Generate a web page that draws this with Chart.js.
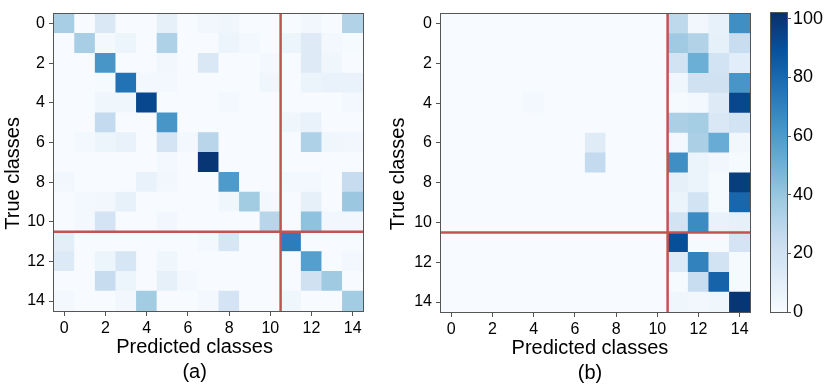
<!DOCTYPE html>
<html>
<head>
<meta charset="utf-8">
<title>Confusion matrices</title>
<script src="https://cdn.jsdelivr.net/npm/chart.js@4.4.1/dist/chart.umd.min.js"></script>
<style>
  html, body { margin: 0; padding: 0; background: #fff; }
  #wrap { position: relative; width: 830px; height: 389px; overflow: hidden; }
  #wrap canvas { position: absolute; top: 0; }
</style>
</head>
<body>
<div id="wrap">
  <canvas id="chart-a" width="380" height="389" style="left:0"></canvas>
  <canvas id="chart-b" width="380" height="389" style="left:380px"></canvas>
  <canvas id="chart-cbar" width="70" height="389" style="left:760px"></canvas>
</div>
<script>
// Data (percent per true class)
const tickVals = [0, 2, 4, 6, 8, 10, 12, 14];
const cbarTicks = [0, 20, 40, 60, 80, 100];
const vmax = 102;
const splitAt = 10.5;

const confA = [
  [35, 0, 15, 0, 0, 9, 0, 3, 4, 0, 0, 0, 3, 0, 32],
  [0, 35, 2, 5, 0, 33, 0, 0, 5, 2, 0, 5, 13, 2, 1],
  [0, 0, 62, 0, 0, 3, 0, 15, 0, 0, 2, 0, 13, 4, 0],
  [0, 0, 1, 76, 2, 2, 0, 0, 0, 0, 4, 0, 6, 7, 7],
  [0, 0, 4, 4, 93, 0, 0, 0, 2, 0, 0, 0, 0, 0, 2],
  [0, 0, 26, 0, 0, 62, 0, 0, 0, 0, 0, 4, 7, 0, 0],
  [0, 2, 5, 7, 0, 18, 2, 30, 0, 0, 0, 0, 33, 4, 3],
  [0, 0, 0, 0, 0, 2, 0, 100, 0, 0, 0, 0, 0, 0, 0],
  [3, 0, 0, 0, 7, 3, 0, 0, 60, 0, 0, 2, 2, 0, 25],
  [0, 2, 3, 8, 0, 0, 0, 0, 4, 37, 2, 0, 9, 0, 39],
  [0, 2, 18, 0, 0, 3, 0, 0, 0, 0, 30, 0, 42, 3, 3],
  [10, 0, 0, 0, 0, 0, 0, 2, 17, 0, 0, 72, 0, 0, 0],
  [14, 0, 5, 17, 0, 4, 0, 0, 0, 0, 0, 0, 58, 0, 2],
  [0, 0, 25, 5, 0, 9, 2, 0, 0, 0, 0, 0, 20, 38, 0],
  [2, 0, 0, 3, 37, 0, 0, 2, 18, 0, 0, 4, 0, 0, 37],
];

const confB = [
  [0, 0, 0, 0, 0, 0, 0, 0, 0, 0, 0, 28, 3, 8, 65],
  [0, 0, 0, 0, 0, 0, 0, 0, 0, 0, 0, 38, 32, 9, 24],
  [0, 0, 0, 0, 0, 0, 0, 0, 0, 0, 0, 19, 51, 19, 11],
  [0, 0, 0, 0, 0, 0, 0, 0, 0, 0, 0, 4, 20, 20, 62],
  [0, 0, 0, 0, 2, 0, 0, 0, 0, 0, 0, 1, 2, 13, 93],
  [0, 0, 0, 0, 0, 0, 0, 0, 0, 0, 0, 34, 36, 15, 19],
  [0, 0, 0, 0, 0, 0, 0, 12, 0, 0, 0, 2, 34, 52, 3],
  [0, 0, 0, 0, 0, 0, 0, 26, 0, 0, 0, 65, 6, 3, 1],
  [0, 0, 0, 0, 0, 0, 0, 0, 0, 0, 0, 9, 6, 1, 97],
  [0, 0, 0, 0, 0, 0, 0, 0, 0, 0, 0, 6, 19, 1, 81],
  [0, 0, 0, 0, 0, 0, 0, 0, 0, 0, 0, 19, 66, 7, 9],
  [0, 0, 0, 0, 0, 0, 0, 0, 0, 0, 0, 90, 1, 1, 18],
  [0, 0, 0, 0, 0, 0, 0, 0, 0, 0, 0, 14, 70, 19, 1],
  [0, 0, 0, 0, 0, 0, 0, 0, 0, 0, 0, 1, 24, 82, 1],
  [0, 0, 0, 0, 0, 0, 0, 0, 0, 0, 0, 4, 3, 4, 100],
];

// matplotlib "Blues"
const blues = ["#f7fbff", "#deebf7", "#c6dbef", "#9ecae1", "#6baed6", "#4292c6", "#2171b5", "#08519c", "#08306b"];
const splitColor = "#c45252";
const inkColor = "#000";
const spineColor = "#555";

Chart.defaults.font.family = '"Liberation Sans", Arial, sans-serif';
Chart.defaults.color = inkColor;

function hexToRgb(hex) {
  const n = parseInt(hex.slice(1), 16);
  return [(n >> 16) & 255, (n >> 8) & 255, n & 255];
}

function bluesColor(value) {
  const t = Math.max(0, Math.min(1, value / vmax)) * (blues.length - 1);
  const i = Math.min(blues.length - 2, Math.floor(t));
  const f = t - i;
  const a = hexToRgb(blues[i]);
  const b = hexToRgb(blues[i + 1]);
  const rgb = a.map((c, k) => Math.round(c + (b[k] - c) * f));
  return `rgb(${rgb[0]}, ${rgb[1]}, ${rgb[2]})`;
}

// one floating bar per cell, spanning its column
function cellData(matrix) {
  const cells = [];
  matrix.forEach((row, r) => {
    row.forEach((v, c) => {
      cells.push({ x: [c - 0.5, c + 0.5], y: r, v });
    });
  });
  return cells;
}

// trailing no-break spaces nudge a centred title toward its start
function nudge(text, count) {
  return text + "\u00a0".repeat(count);
}

// box around the plot area like matplotlib spines
const framePlugin = {
  id: "frame",
  afterDatasetsDraw(chart) {
    const { ctx, chartArea: a } = chart;
    ctx.save();
    ctx.strokeStyle = spineColor;
    ctx.lineWidth = 1;
    ctx.strokeRect(Math.round(a.left) - 0.5, Math.round(a.top) - 0.5, Math.round(a.right - a.left) + 1, Math.round(a.bottom - a.top) + 1);
    ctx.restore();
  },
};

function fixedTicks(values) {
  return (axis) => {
    axis.ticks = values.map((v) => ({ value: v }));
  };
}

function makeHeatmap(id, matrix, caption, opts) {
  const n = matrix.length;
  new Chart(document.getElementById(id), {
    type: "bar",
    data: {
      datasets: [
        {
          type: "line",
          data: [{ x: splitAt, y: -0.5 }, { x: splitAt, y: n - 0.5 }],
          borderColor: splitColor,
          borderWidth: 2.5,
          pointRadius: 0,
          order: 0,
        },
        {
          type: "line",
          data: [{ x: -0.5, y: splitAt }, { x: n - 0.5, y: splitAt }],
          borderColor: splitColor,
          borderWidth: 2.5,
          pointRadius: 0,
          order: 0,
        },
        {
          type: "bar",
          data: cellData(matrix),
          backgroundColor: (ctx) => bluesColor(ctx.raw ? ctx.raw.v : 0),
          borderWidth: 0,
          barPercentage: 1,
          categoryPercentage: 1,
          order: 1,
        },
      ],
    },
    options: {
      indexAxis: "y",
      responsive: false,
      animation: false,
      layout: { padding: opts.padding },
      plugins: {
        legend: { display: false },
        tooltip: { enabled: false },
      },
      scales: {
        x: {
          type: "linear",
          min: -0.5,
          max: n - 0.5,
          bounds: "data",
          offset: false,
          afterBuildTicks: fixedTicks(tickVals),
          afterFit: (axis) => { axis.height = opts.xAxisHeight; },
          ticks: { font: { size: 16 }, padding: 3, maxRotation: 0, autoSkip: false, color: inkColor },
          grid: { offset: false, drawOnChartArea: false, drawTicks: true, tickLength: 5, color: spineColor },
          border: { display: false },
          title: {
            display: true,
            text: [nudge("Predicted classes", opts.xNudge), nudge(caption, opts.xNudge)],
            font: { size: 20, lineHeight: 1.25 },
            padding: { top: 0, bottom: opts.xTitlePad },
            color: inkColor,
          },
        },
        y: {
          type: "linear",
          reverse: true,
          min: -0.5,
          max: n - 0.5,
          bounds: "data",
          offset: false,
          afterBuildTicks: fixedTicks(tickVals),
          afterFit: (axis) => { axis.width = opts.yAxisWidth; },
          ticks: { font: { size: 16 }, padding: 4, autoSkip: false, color: inkColor },
          grid: { offset: false, drawOnChartArea: false, drawTicks: true, tickLength: 5, color: spineColor },
          border: { display: false },
          title: {
            display: true,
            text: nudge("True classes", 4),
            font: { size: 20, lineHeight: 1.2 },
            padding: { top: opts.yTitlePad, bottom: 0 },
            color: inkColor,
          },
        },
      },
    },
    plugins: [framePlugin],
  });
}

makeHeatmap("chart-a", confA, "(a)", {
  padding: { top: 3, right: 17, left: 0, bottom: 0 },
  xAxisHeight: 78,
  yAxisWidth: 54,
  xTitlePad: 4.5,
  yTitlePad: 1.3,
  xNudge: 5,
});

makeHeatmap("chart-b", confB, "(b)", {
  padding: { top: 4.5, right: 10, left: 0, bottom: 0 },
  xAxisHeight: 77,
  yAxisWidth: 61,
  xTitlePad: 3.5,
  yTitlePad: 6,
  xNudge: 2,
});

// colour bar: one floating bar 0..vmax filled with the Blues gradient
new Chart(document.getElementById("chart-cbar"), {
  type: "bar",
  data: {
    labels: [""],
    datasets: [
      {
        data: [[0, vmax]],
        backgroundColor: (ctx) => {
          const chart = ctx.chart;
          const y = chart.scales.y;
          if (!chart.chartArea || !y) return blues[0];
          const g = chart.ctx.createLinearGradient(0, y.getPixelForValue(0), 0, y.getPixelForValue(vmax));
          blues.forEach((c, i) => g.addColorStop(i / (blues.length - 1), c));
          return g;
        },
        borderWidth: 0,
        barPercentage: 1,
        categoryPercentage: 1,
      },
    ],
  },
  options: {
    responsive: false,
    animation: false,
    layout: { padding: { top: 5, right: 0, left: 11, bottom: 77 } },
    plugins: {
      legend: { display: false },
      tooltip: { enabled: false },
    },
    scales: {
      x: { display: false },
      y: {
        position: "right",
        min: 0,
        max: vmax,
        bounds: "data",
        afterBuildTicks: fixedTicks(cbarTicks),
        afterFit: (axis) => { axis.width = 43; },
        ticks: { font: { size: 18 }, padding: 2, color: inkColor },
        grid: { drawOnChartArea: false, drawTicks: true, tickLength: 4, color: spineColor },
        border: { display: false },
      },
    },
  },
  plugins: [framePlugin],
});
</script>
</body>
</html>
